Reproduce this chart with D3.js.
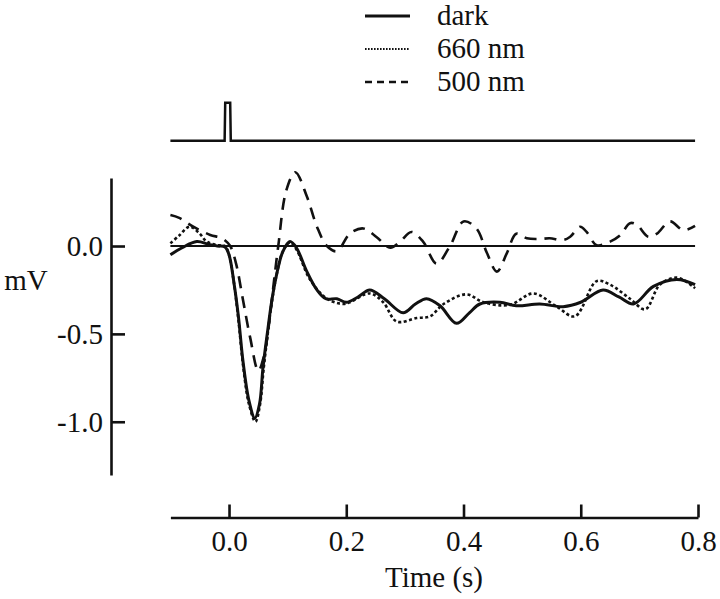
<!DOCTYPE html>
<html>
<head>
<meta charset="utf-8">
<script src="https://cdn.jsdelivr.net/npm/d3@7"></script>
<style>
  body { margin: 0; background: #fff; }
  svg { display: block; }
  text { font-family: "Liberation Serif", "DejaVu Serif", "Times New Roman", Times, serif; fill: #111; }
</style>
</head>
<body>
<div id="chart"></div>
<script>
// values
var darkT = [-0.1, -0.08, -0.055, -0.035, -0.02, -0.007, 0.0, 0.008, 0.016, 0.024, 0.034, 0.044,
  0.052, 0.058, 0.066, 0.073, 0.082, 0.092, 0.104, 0.115, 0.132, 0.15, 0.165, 0.184, 0.2, 0.22,
  0.24, 0.265, 0.297, 0.318, 0.337, 0.36, 0.388, 0.41, 0.428, 0.462, 0.49, 0.53, 0.57, 0.6,
  0.638, 0.665, 0.69, 0.724, 0.764, 0.795];
var darkV = [-0.05, -0.01, 0.025, 0.01, 0.0, -0.005, -0.05, -0.2, -0.4, -0.66, -0.88, -0.98,
  -0.9, -0.69, -0.48, -0.31, -0.15, -0.03, 0.025, -0.01, -0.14, -0.25, -0.3, -0.3, -0.32, -0.29,
  -0.25, -0.3, -0.38, -0.33, -0.3, -0.34, -0.44, -0.38, -0.33, -0.32, -0.34, -0.33, -0.345, -0.32,
  -0.25, -0.29, -0.33, -0.23, -0.19, -0.22];

var nm660T = [-0.1, -0.085, -0.067, -0.05, -0.038, -0.02, -0.007, 0.0, 0.008, 0.016, 0.024, 0.034,
  0.045, 0.053, 0.059, 0.066, 0.073, 0.082, 0.092, 0.104, 0.115, 0.138, 0.167, 0.195, 0.206, 0.24,
  0.263, 0.286, 0.32, 0.343, 0.366, 0.405, 0.434, 0.479, 0.519, 0.559, 0.59, 0.627, 0.65, 0.684,
  0.71, 0.735, 0.764, 0.795];
var nm660V = [0.015, 0.06, 0.11, 0.07, 0.025, 0.005, 0.0, -0.05, -0.2, -0.42, -0.68, -0.9,
  -1.0, -0.9, -0.7, -0.5, -0.32, -0.15, -0.03, 0.02, -0.02, -0.19, -0.3, -0.33, -0.32, -0.27,
  -0.32, -0.43, -0.41, -0.4, -0.33, -0.275, -0.32, -0.335, -0.27, -0.345, -0.4, -0.2, -0.22, -0.3,
  -0.36, -0.22, -0.18, -0.24];

var nm500T = [-0.1, -0.085, -0.061, -0.032, -0.012, 0.002, 0.012, 0.024, 0.036, 0.05, 0.06, 0.068,
  0.076, 0.084, 0.098, 0.113, 0.133, 0.15, 0.167, 0.184, 0.206, 0.229, 0.252, 0.275, 0.292, 0.311,
  0.331, 0.354, 0.377, 0.4, 0.422, 0.44, 0.457, 0.474, 0.49, 0.508, 0.53, 0.547, 0.57, 0.582,
  0.599, 0.61, 0.627, 0.65, 0.667, 0.684, 0.696, 0.715, 0.73, 0.752, 0.775, 0.795];
var nm500V = [0.176, 0.16, 0.11, 0.063, 0.044, 0.0, -0.1, -0.31, -0.52, -0.71, -0.62, -0.45,
  -0.22, 0.0, 0.32, 0.42, 0.28, 0.11, 0.0, -0.03, 0.07, 0.1, 0.05, -0.01, 0.025, 0.08,
  0.025, -0.1, 0.0, 0.14, 0.1, -0.04, -0.146, -0.04, 0.07, 0.044, 0.04, 0.044, 0.034, 0.053,
  0.11, 0.08, 0.005, 0.025, 0.06, 0.13, 0.12, 0.053, 0.07, 0.14, 0.09, 0.114];

// light stimulus trace (0 = off, 1 = on)
var stimT = [-0.1, -0.0075, -0.0065, 0.002, 0.003, 0.795];
var stimV = [0, 0, 1, 1, 0, 0];

var xTicks = [0, 0.2, 0.4, 0.6, 0.8];
var xTickLabels = ['0.0', '0.2', '0.4', '0.6', '0.8'];
var yTicks = [0, -0.5, -1.0];
var yTickLabels = ['0.0', '-0.5', '-1.0'];
var legendNames = ['dark', '660 nm', '500 nm'];

var w = 720, h = 599;
var serif = '"Liberation Serif", "DejaVu Serif", "Times New Roman", Times, serif';

var svg = d3.select('#chart').append('svg')
  .attr('width', w).attr('height', h)
  .attr('font-family', serif);

var x = d3.scaleLinear().domain([-0.1, 0.8]).range([170.4, 698]);
var y = d3.scaleLinear().domain([-1.303, 0.387]).range([475, 178]);
var yStim = d3.scaleLinear().domain([0, 1]).range([140.7, 102.7]);

function zip(ts, vs) {
  return ts.map(function(t, i) { return [t, vs[i]]; });
}

var line = d3.line()
  .x(function(d) { return x(d[0]); })
  .y(function(d) { return y(d[1]); })
  .curve(d3.curveCatmullRom.alpha(0.5));

// axes
var xAxis = d3.axisBottom(x)
  .tickValues(xTicks)
  .tickFormat(function(d, i) { return xTickLabels[i]; })
  .tickSizeInner(-13).tickSizeOuter(0).tickPadding(13);

var yAxis = d3.axisLeft(y)
  .tickValues(yTicks)
  .tickFormat(function(d, i) { return yTickLabels[i]; })
  .tickSizeInner(-14).tickSizeOuter(0).tickPadding(8);

var gx = svg.append('g').attr('transform', 'translate(0,517.5)').call(xAxis);
var gy = svg.append('g').attr('transform', 'translate(111,0)').call(yAxis);

[gx, gy].forEach(function(g) {
  g.attr('font-family', serif).attr('font-size', 29);
  g.selectAll('path, line').attr('stroke', '#111').attr('stroke-width', 2.6);
  g.selectAll('text').attr('fill', '#111');
});

svg.append('text')
  .attr('x', 434).attr('y', 587)
  .attr('text-anchor', 'middle')
  .attr('font-size', '29px')
  .text('Time (s)');

svg.append('text')
  .attr('x', 26).attr('y', 290)
  .attr('text-anchor', 'middle')
  .attr('font-size', '29px')
  .text('mV');

// zero line
svg.append('line')
  .attr('x1', x(-0.1)).attr('x2', x(0.795))
  .attr('y1', y(0)).attr('y2', y(0))
  .attr('stroke', '#111').attr('stroke-width', 2);

// stimulus
svg.append('path')
  .datum(zip(stimT, stimV))
  .attr('d', d3.line()
    .x(function(d) { return x(d[0]); })
    .y(function(d) { return yStim(d[1]); }))
  .attr('fill', 'none').attr('stroke', '#111').attr('stroke-width', 2.5);

// traces
var series = [
  { data: zip(darkT, darkV), dash: null, width: 3 },
  { data: zip(nm660T, nm660V), dash: '3,2.5', width: 2.6 },
  { data: zip(nm500T, nm500V), dash: '12,8', width: 2.6 }
];

svg.selectAll('path.trace')
  .data(series)
  .enter()
  .append('path')
  .attr('class', 'trace')
  .attr('d', function(d) { return line(d.data); })
  .attr('fill', 'none')
  .attr('stroke', '#111')
  .attr('stroke-width', function(d) { return d.width; })
  .attr('stroke-dasharray', function(d) { return d.dash; });

// legend
var legendDash = [null, '1.6,1.4', '7,5'];
var legendWidth = [3, 2, 2.6];
var leg = svg.selectAll('g.legend')
  .data(legendNames)
  .enter()
  .append('g')
  .attr('class', 'legend')
  .attr('transform', function(d, i) { return 'translate(0,' + (16 + i * 33) + ')'; });

leg.append('line')
  .attr('x1', 365).attr('x2', 410)
  .attr('stroke', '#111')
  .attr('stroke-width', function(d, i) { return legendWidth[i]; })
  .attr('stroke-dasharray', function(d, i) { return legendDash[i]; });

leg.append('text')
  .attr('x', 437).attr('y', 9)
  .attr('font-size', '29px')
  .text(function(d) { return d; });
</script>
</body>
</html>
